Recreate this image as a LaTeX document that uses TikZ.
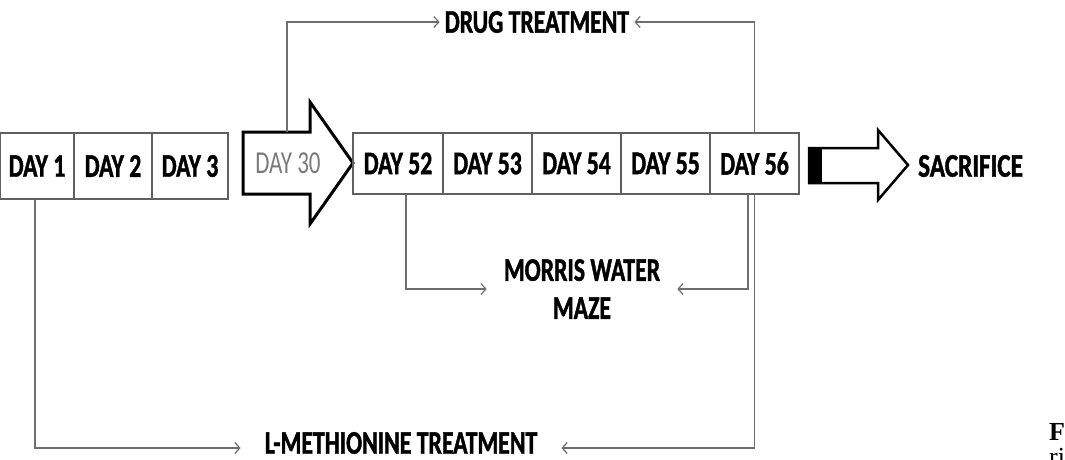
\documentclass[tikz,border=0pt]{standalone}
\usepackage{fontspec}
\setmainfont{Carlito}
\newfontfamily\lblfont[FakeStretch=0.72,FakeBold=1.2]{Carlito}
\newfontfamily\dayfont[FakeStretch=0.72]{Carlito}
\newfontfamily\capfont{Liberation Serif}
\usetikzlibrary{arrows.meta}
\definecolor{boxgray}{HTML}{606060}
\definecolor{linegray}{HTML}{6E6E6E}
\definecolor{daygray}{HTML}{7A7A7A}
\begin{document}
\begin{tikzpicture}[x=1pt,y=-1pt,
  lblf/.style={font=\lblfont\bfseries\fontsize{33}{38}\selectfont},
  daybox/.style={draw=boxgray, line width=1.2pt, minimum width=#1, inner sep=0pt, lblf},
  conn/.style={draw=linegray, line width=1.3pt},
  tip/.style={-{Straight Barb[length=5pt,width=11pt,line width=1.2pt]}},
  lbl/.style={lblf, inner sep=3pt},
  bigarrow/.style={draw=black, line width=3pt, line join=miter}
]
\useasboundingbox (0,0) rectangle (1065,460);
% left row
\node[daybox=74pt, minimum height=66pt] (d1) at (37,166) {DAY 1};
\node[daybox=78pt, minimum height=66pt] (d2) at (113,166) {DAY 2};
\node[daybox=76pt, minimum height=66pt] (d3) at (190,166) {DAY 3};
% day 30 arrow
\draw[bigarrow] (243,132) -- (310,132) -- (310,102) -- (353,163) -- (310,224) -- (310,194) -- (243,194) -- cycle;
\node[font=\dayfont\fontsize{32}{32}\selectfont, text=daygray] (d30) at (288,163) {DAY 30};
\coordinate (d30top) at (287,132);
% right row
\node[daybox=90pt, minimum height=61pt] (d52) at (398,163.5) {DAY 52};
\node[daybox=89pt, minimum height=61pt] (d53) at (487.5,163.5) {DAY 53};
\node[daybox=89pt, minimum height=61pt] (d54) at (576.5,163.5) {DAY 54};
\node[daybox=89pt, minimum height=61pt] (d55) at (665.5,163.5) {DAY 55};
\node[daybox=89pt, minimum height=61pt] (d56) at (754.5,163.5) {DAY 56};
% sacrifice arrow
\fill (809,148) rectangle (822,183);
\draw[bigarrow, line width=2.5pt] (809,148) -- (878,148) -- (878,130) -- (908,165) -- (878,200) -- (878,183) -- (809,183) -- cycle;
\node[lbl, anchor=west, inner sep=0pt] (sac) at (918,166) {\scalebox{1.06}[1]{SACRIFICE}};
% labels
\node[lbl, inner xsep=5pt] (drug) at (537,22) {DRUG TREATMENT};
\node[lbl, align=center, inner xsep=17pt] (mwm) at (582,289) {MORRIS WATER\\MAZE};
\node[lbl, inner xsep=24pt] (lmt) at (401,443) {L-METHIONINE TREATMENT};
% connectors
\draw[conn,tip] (d30top) |- (drug.west);
\draw[conn,tip] (d56.north) |- (drug.east);
\draw[conn,tip] ([xshift=8pt]d52.south) |- (mwm.west);
\draw[conn,tip] ([xshift=-6.5pt]d56.south) |- (mwm.east);
\draw[conn,tip] ([xshift=-2pt]d1.south) |- ([yshift=-5pt]lmt.west);
\draw[conn,tip] (d56.south) |- ([yshift=-5pt]lmt.east);
% cropped caption
\node[font=\capfont\bfseries\fontsize{26}{26}\selectfont, anchor=base west, inner sep=0pt] (capF) at (1049,440) {F};
\node[font=\capfont\fontsize{26}{26}\selectfont, anchor=base west, inner sep=0pt] (capri) at (1049,465) {ri};
\end{tikzpicture}
\end{document}
